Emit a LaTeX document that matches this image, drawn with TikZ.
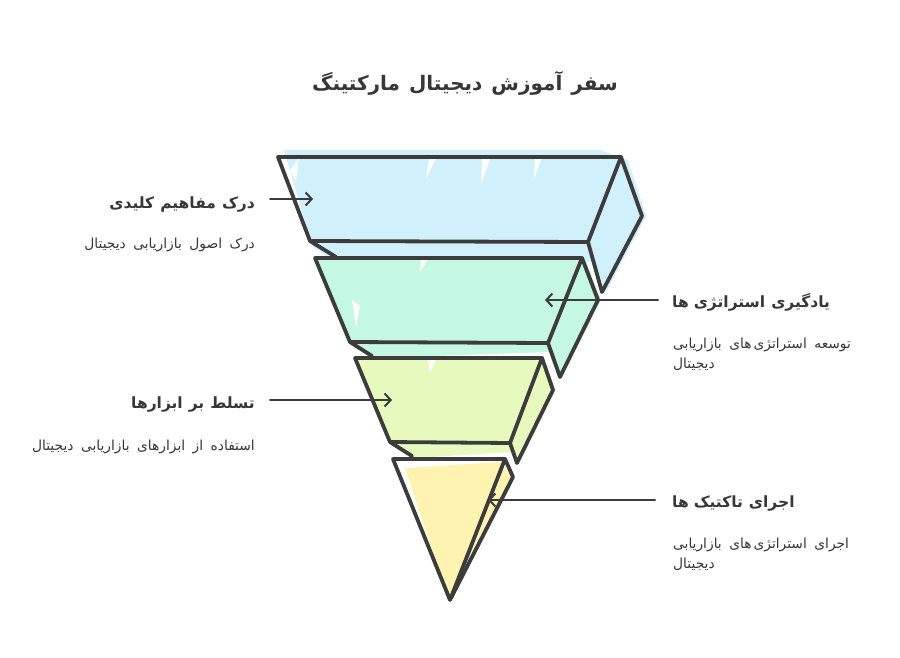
\documentclass[tikz,border=0pt]{standalone}
\usepackage{fontspec}
\usetikzlibrary{arrows.meta}
\TeXXeTstate=1
\newfontfamily\fa[Script=Arabic]{DejaVu Sans}
\definecolor{ink}{RGB}{60,60,60}
\definecolor{txt}{RGB}{55,55,55}
\definecolor{cblue}{RGB}{208,240,252}
\definecolor{cmint}{RGB}{196,248,226}
\definecolor{clime}{RGB}{230,250,190}
\definecolor{cyel}{RGB}{255,243,178}
\newcommand{\zw}[1]{‌\hspace{#1}}
\begin{document}
\begin{tikzpicture}[x=1pt,y=-1pt,
  band/.style={draw=ink,line width=3.8pt,line join=round,line cap=round},
  streak/.style={fill=white},
  conn/.style={draw=ink,line width=2pt,line cap=round,-{Straight Barb[length=6pt,width=13pt,line width=2pt]}},
  ttl/.style={font={\fa\bfseries\fontsize{20}{24}\selectfont\spaceskip=9pt\relax},text=txt,inner sep=0pt},
  head/.style={font={\fa\bfseries\fontsize{15.5}{18}\selectfont\spaceskip=6pt\relax},text=txt,inner sep=0pt},
  sub/.style={font={\fa\fontsize{13.8}{20}\selectfont\spaceskip=7.5pt\relax},text=txt,inner sep=0pt,align=left}]
\useasboundingbox (0,0) rectangle (900,657);
\fill[white] (0,0) rectangle (900,657);

% ---------- band 1 (blue)
\fill[cblue] (284,150) -- (600,150) -- (628,160) -- (646,216) -- (606,292) -- (594,262) -- (335,262) -- (312,246) -- cycle;
\fill[streak] (429,159) -- (436,159) -- (426,178) -- cycle;
\fill[streak] (482,159) -- (490,159) -- (481,184) -- cycle;
\fill[streak] (535,159) -- (541,159) -- (534,180) -- cycle;
\fill[streak] (290,170) -- (299,158) -- (296,182) -- cycle;
\draw[band] (278,157) -- (621,157) -- (588,242) -- (310,241) -- cycle;
\draw[band] (621,157) -- (642,216) -- (602,292) -- (588,242);
\draw[band] (310,241) -- (336,257);

% ---------- band 2 (mint)
\fill[cmint] (316,256) -- (584,256) -- (601,300) -- (561,378) -- (550,352) -- (372,358) -- (350,344) -- cycle;
\fill[streak] (421,259) -- (428,259) -- (420,272) -- cycle;
\fill[streak] (352,300) -- (360,306) -- (356,328) -- cycle;
\draw[band] (315,258) -- (582,258) -- (548,343) -- (350,342) -- cycle;
\draw[band] (582,258) -- (598,300) -- (560,377) -- (548,343);
\draw[band] (350,342) -- (372,356);

% ---------- band 3 (lime)
\fill[clime] (356,356) -- (542,356) -- (556,390) -- (518,464) -- (512,452) -- (412,458) -- (390,444) -- cycle;
\fill[streak] (428,360) -- (436,360) -- (430,372) -- cycle;
\draw[band] (355,358) -- (542,358) -- (510,443) -- (390,442) -- cycle;
\draw[band] (542,358) -- (553,390) -- (517,463) -- (510,443);
\draw[band] (390,442) -- (412,456);

% ---------- band 4 (yellow)
\fill[cyel] (405,468) -- (500,462) -- (514,478) -- (452,598) -- (446,592) -- cycle;
\draw[band] (393,459) -- (505,459) -- (450,600) -- cycle;
\draw[band] (505,459) -- (513,477) -- (451,598);

% ---------- title
\node[ttl] (title) at (465,83) {\beginR سفر آموزش دیجیتال مارکتینگ\endR};

% ---------- labels
\node[head,anchor=east] (h1) at (255,204) {\beginR درک مفاهیم کلیدی\endR};
\node[sub,anchor=east] (s1) at (255,245) {\beginR درک اصول بازاریابی دیجیتال\endR};

\node[head,anchor=east] (h3) at (255,404) {\beginR تسلط بر ابزارها\endR};
\node[sub,anchor=east] (s3) at (255,447) {\beginR استفاده از ابزارهای بازاریابی دیجیتال\endR};

\node[head,anchor=west] (h2) at (672,302) {\beginR یادگیری استراتژی\zw{5pt}ها\endR};
\node[sub,anchor=west] (s2) at (673,354) {\beginR توسعه استراتژی\zw{2pt}های بازاریابی\endR\\\beginR دیجیتال\endR};

\node[head,anchor=west] (h4) at (672,503) {\beginR اجرای تاکتیک\zw{5pt}ها\endR};
\node[sub,anchor=west] (s4) at (673,554) {\beginR اجرای استراتژی\zw{2pt}های بازاریابی\endR\\\beginR دیجیتال\endR};

% ---------- connectors
\coordinate (a1s) at (270,199); \coordinate (a1t) at (313,199);
\coordinate (a2s) at (658,300); \coordinate (a2t) at (545,300);
\coordinate (a3s) at (270,400); \coordinate (a3t) at (392,400);
\coordinate (a4s) at (655,500); \coordinate (a4t) at (488,500);
\draw[conn] (a1s) -- (a1t);
\draw[conn] (a2s) -- (a2t);
\draw[conn] (a3s) -- (a3t);
\draw[conn] (a4s) -- (a4t);
\end{tikzpicture}
\end{document}
